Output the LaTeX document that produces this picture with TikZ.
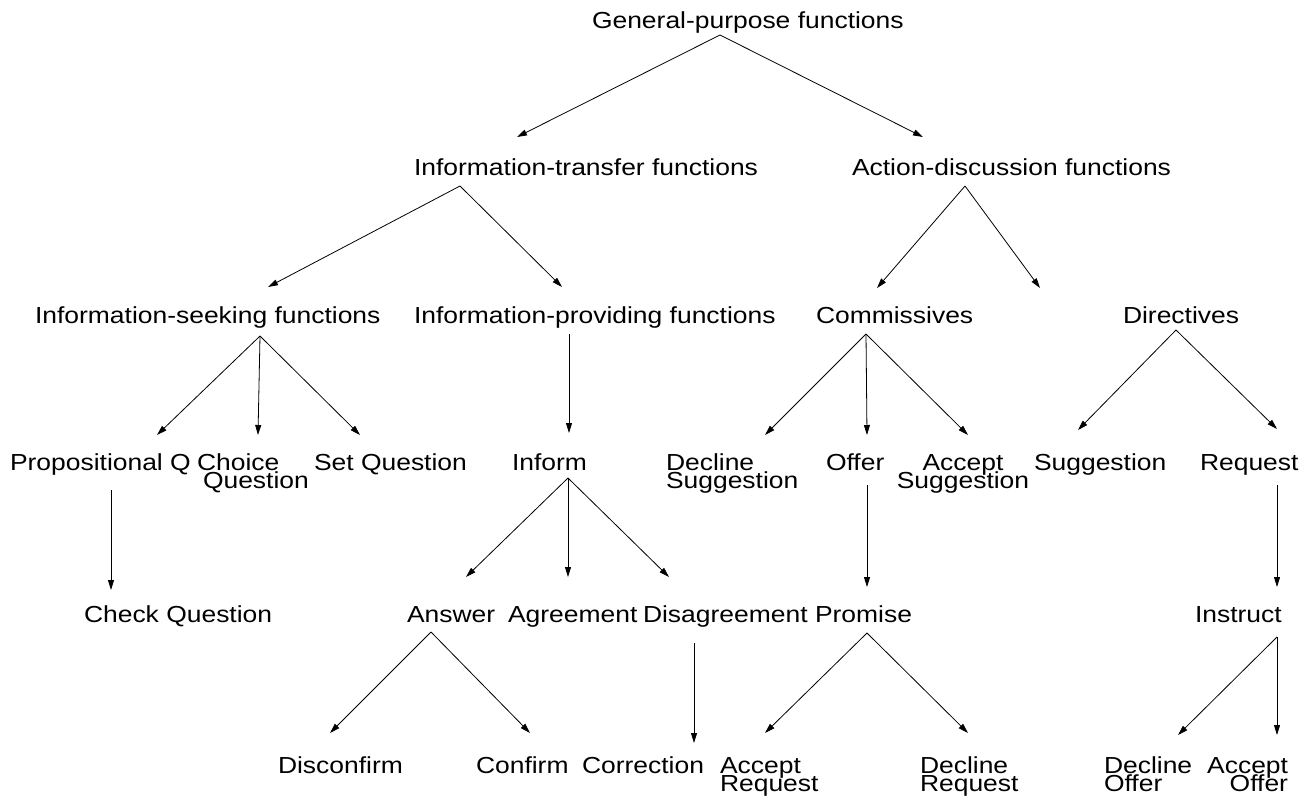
\documentclass[tikz,border=0pt]{standalone}
\usepackage{fontspec}
\setmainfont{Liberation Sans}[FakeStretch=1.14]
\usetikzlibrary{arrows.meta}
\newcommand\lblfont{\fontsize{23.2}{18.5}\selectfont}
\newcommand\twoleft[2]{\vtop{\baselineskip=18.5pt\lineskiplimit=-\maxdimen\halign{##\hfil\cr#1\cr#2\cr}}}
\newcommand\twocenter[2]{\vtop{\baselineskip=18.5pt\lineskiplimit=-\maxdimen\halign{\hfil##\hfil\cr#1\cr#2\cr}}}
\newcommand\tworight[2]{\vtop{\baselineskip=18.5pt\lineskiplimit=-\maxdimen\halign{\hfil##\cr#1\cr#2\cr}}}
\begin{document}
\begin{tikzpicture}[x=1pt,y=-1pt,
  lbl/.style={inner sep=0pt, outer sep=0pt, anchor=base west, font=\lblfont},
  arr/.style={-{Triangle[length=10pt,width=6pt]}, line width=0.8pt}]
\useasboundingbox (0,0) rectangle (1314,801);
% row 0
\node[lbl] (gp) at (592,28) {General-purpose functions};
% row 1
\node[lbl] (it) at (414,175) {Information-transfer functions};
\node[lbl] (ad) at (852,175) {Action-discussion functions};
% row 2
\node[lbl] (is) at (35,323) {Information-seeking functions};
\node[lbl] (ip) at (414,323) {Information-providing functions};
\node[lbl] (co) at (816,323) {Commissives};
\node[lbl] (di) at (1123,323) {Directives};
% row 3
\node[lbl] (pq) at (10,470) {Propositional Q};
\node[lbl] (cq) at (197,470) {\twoleft{Choice}{\hspace*{6pt}Question}};
\node[lbl] (sq) at (314,470) {Set Question};
\node[lbl] (inf) at (512,470) {Inform};
\node[lbl] (ds) at (666,470) {\twoleft{Decline}{Suggestion}};
\node[lbl] (of) at (826,470) {Offer};
\node[lbl, anchor=base] (as) at (963,470) {\twocenter{Accept}{Suggestion}};
\node[lbl] (su) at (1034,470) {Suggestion};
\node[lbl] (rq) at (1200,470) {Request};
% row 4
\node[lbl] (ch) at (84,622) {Check Question};
\node[lbl] (an) at (407,622) {Answer};
\node[lbl] (ag) at (508,622) {Agreement};
\node[lbl] (da) at (643,622) {Disagreement};
\node[lbl] (pr) at (815,622) {Promise};
\node[lbl] (ins) at (1195,622) {Instruct};
% row 5
\node[lbl] (dc) at (278,773) {Disconfirm};
\node[lbl] (cf) at (476,773) {Confirm};
\node[lbl] (cr) at (582,773) {Correction};
\node[lbl] (ar) at (720,773) {\twoleft{Accept}{Request}};
\node[lbl] (dr) at (920,773) {\twoleft{Decline}{Request}};
\node[lbl] (do) at (1104,773) {\twoleft{Decline}{Offer}};
\node[lbl, anchor=base east] (ao) at (1288,773) {\tworight{Accept}{Offer}};
% connector points
\coordinate (gp-o) at (720,35);
\coordinate (it-i) at (517,137);  \coordinate (ad-i) at (923,137);
\coordinate (it-o) at (460,186);  \coordinate (ad-o) at (965,186);
\coordinate (is-i) at (268,287);  \coordinate (ip-i) at (562,287);
\coordinate (co-i) at (877,288);  \coordinate (di-i) at (1040,288);
\coordinate (is-o) at (260,336);  \coordinate (ip-o) at (569,334);
\coordinate (co-o) at (866,334);  \coordinate (di-o) at (1176,330);
\coordinate (pq-i) at (157,435);  \coordinate (cq-i) at (258,435);
\coordinate (sq-i) at (360,435);  \coordinate (inf-i) at (569,433);
\coordinate (ds-i) at (765,435);  \coordinate (of-i) at (867,435);
\coordinate (as-i) at (968,435);  \coordinate (su-i) at (1078,430);
\coordinate (rq-i) at (1277,429);
\coordinate (pq-o) at (111,490);  \coordinate (ch-i) at (111,590);
\coordinate (of-o) at (867,485);  \coordinate (pr-i) at (867,587);
\coordinate (rq-o) at (1277,485); \coordinate (ins-i) at (1277,587);
\coordinate (inf-o) at (568,478);
\coordinate (an-i) at (466,577);  \coordinate (ag-i) at (568,577);
\coordinate (da-i) at (669,577);
\coordinate (an-o) at (431,632);  \coordinate (dc-i) at (330,733);
\coordinate (cf-i) at (530,733);
\coordinate (da-o) at (694,643);  \coordinate (cr-i) at (694,743);
\coordinate (pr-o) at (867,633);  \coordinate (ar-i) at (765,733);
\coordinate (dr-i) at (968,733);
\coordinate (ins-o) at (1277,637); \coordinate (do-i) at (1178,735);
\coordinate (ao-i) at (1277,735);
% connectors
\draw[arr] (gp-o) -- (it-i);
\draw[arr] (gp-o) -- (ad-i);
\draw[arr] (it-o) -- (is-i);
\draw[arr] (it-o) -- (ip-i);
\draw[arr] (ad-o) -- (co-i);
\draw[arr] (ad-o) -- (di-i);
\draw[arr] (is-o) -- (pq-i);
\draw[arr] (is-o) -- (cq-i);
\draw[arr] (is-o) -- (sq-i);
\draw[arr] (ip-o) -- (inf-i);
\draw[arr] (co-o) -- (ds-i);
\draw[arr] (co-o) -- (of-i);
\draw[arr] (co-o) -- (as-i);
\draw[arr] (di-o) -- (su-i);
\draw[arr] (di-o) -- (rq-i);
\draw[arr] (pq-o) -- (ch-i);
\draw[arr] (of-o) -- (pr-i);
\draw[arr] (rq-o) -- (ins-i);
\draw[arr] (inf-o) -- (an-i);
\draw[arr] (inf-o) -- (ag-i);
\draw[arr] (inf-o) -- (da-i);
\draw[arr] (an-o) -- (dc-i);
\draw[arr] (an-o) -- (cf-i);
\draw[arr] (da-o) -- (cr-i);
\draw[arr] (pr-o) -- (ar-i);
\draw[arr] (pr-o) -- (dr-i);
\draw[arr] (ins-o) -- (do-i);
\draw[arr] (ins-o) -- (ao-i);
\end{tikzpicture}
\end{document}
